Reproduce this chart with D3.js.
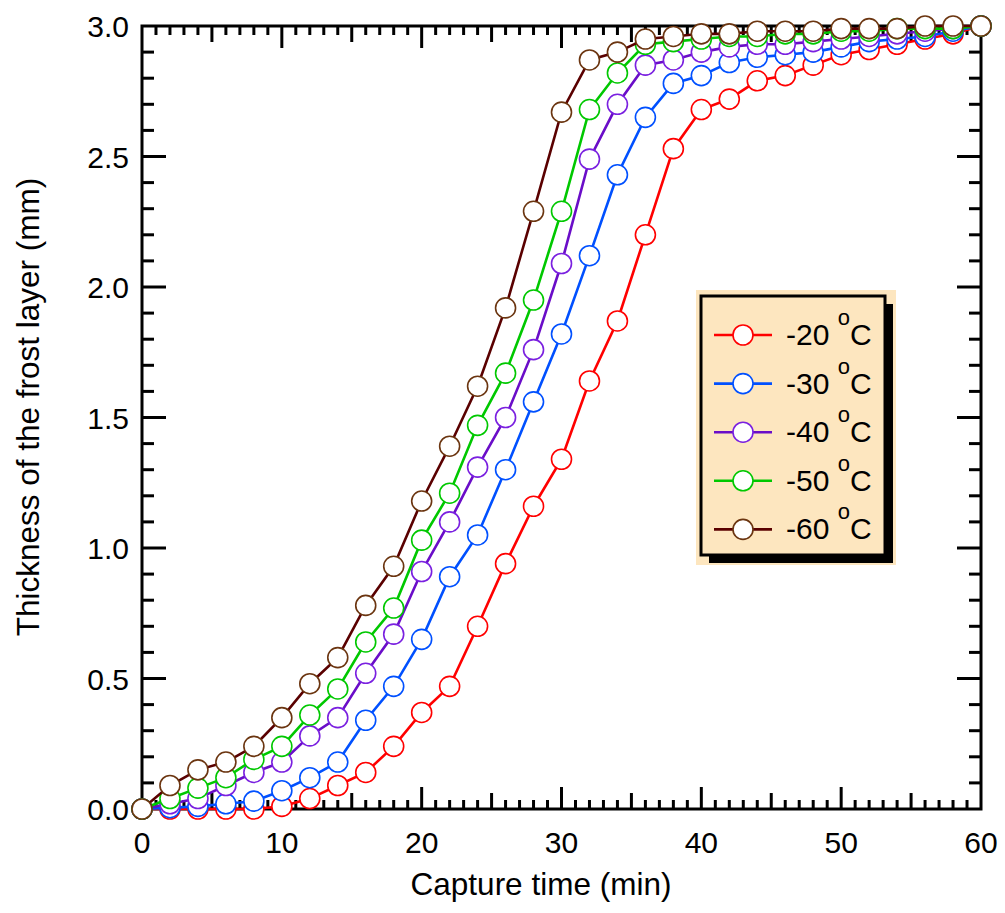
<!DOCTYPE html>
<html><head><meta charset="utf-8">
<script src="https://cdn.jsdelivr.net/npm/d3@7"></script>
<style>body{margin:0;background:#fff}svg{display:block;font-family:"Liberation Sans",Arial,sans-serif}</style>
</head><body><svg id="c" width="1005" height="913"></svg>
<script>
const times = [0,2,4,6,8,10,12,14,16,18,20,22,24,26,28,30,32,34,36,38,40,42,44,46,48,50,52,54,56,58,60];
const seriesNames = ["-20", "-30", "-40", "-50", "-60"];
const t20 = [0,0,0,0,0,0.01,0.04,0.09,0.14,0.24,0.37,0.47,0.70,0.94,1.16,1.34,1.64,1.87,2.20,2.53,2.68,2.72,2.79,2.81,2.85,2.89,2.91,2.93,2.95,2.97,3.0];
const t30 = [0,0.005,0.01,0.02,0.03,0.07,0.12,0.18,0.34,0.47,0.65,0.89,1.05,1.30,1.56,1.82,2.12,2.43,2.65,2.78,2.81,2.86,2.88,2.89,2.90,2.92,2.94,2.95,2.96,2.98,3.0];
const t40 = [0,0.02,0.04,0.09,0.14,0.18,0.28,0.35,0.52,0.67,0.91,1.10,1.31,1.50,1.76,2.09,2.49,2.70,2.85,2.87,2.90,2.92,2.93,2.93,2.94,2.95,2.96,2.97,2.98,2.99,3.0];
const t50 = [0,0.04,0.08,0.12,0.19,0.24,0.36,0.46,0.64,0.77,1.03,1.21,1.47,1.67,1.95,2.29,2.68,2.82,2.93,2.94,2.95,2.96,2.96,2.97,2.97,2.98,2.98,2.99,2.99,2.99,3.0];
const t60 = [0,0.09,0.15,0.18,0.24,0.35,0.48,0.58,0.78,0.93,1.18,1.39,1.62,1.92,2.29,2.67,2.87,2.90,2.95,2.96,2.97,2.97,2.98,2.98,2.98,2.99,2.99,2.99,3.0,3.0,3.0];
const seriesValues = [t20, t30, t40, t50, t60];
const xTicks = [0,10,20,30,40,50,60];
const yTicks = [0,0.5,1.0,1.5,2.0,2.5,3.0];
const lineColors = ["#ff0000","#0050ff","#6a0dc8","#00c800","#5a0000"];
const markerColors = ["#ff0000","#0050ff","#7a20e0","#00c800","#6b3510"];

const svg = d3.select("#c");
const L=142,R=981,T=26,B=809;
const x = d3.scaleLinear().domain([0,60]).range([L,R]);
const y = d3.scaleLinear().domain([0,3]).range([B,T]);

// ticks
const g = svg.append("g").attr("stroke","#000").attr("stroke-width",3);
d3.range(0,61,1).forEach(v=>{
  const len = v%10===0?22:(v%5===0?16:9);
  if(v===0||v===60) return;
  g.append("line").attr("x1",x(v)).attr("x2",x(v)).attr("y1",B).attr("y2",B-len);
  g.append("line").attr("x1",x(v)).attr("x2",x(v)).attr("y1",T).attr("y2",T+len);
});
d3.range(0,31,1).forEach(i=>{
  const v=i/10;
  const len = i%5===0?24:12;
  if(i===0||i===30) return;
  g.append("line").attr("x1",L).attr("x2",L+len).attr("y1",y(v)).attr("y2",y(v));
  g.append("line").attr("x1",R).attr("x2",R-len).attr("y1",y(v)).attr("y2",y(v));
});
svg.append("rect").attr("x",L).attr("y",T).attr("width",R-L).attr("height",B-T)
  .attr("fill","none").attr("stroke","#000").attr("stroke-width",3);

// labels
svg.append("g").selectAll("text").data(xTicks).join("text")
  .attr("x",d=>x(d)).attr("y",853).attr("text-anchor","middle")
  .attr("font-size",30).text(d=>d);
svg.append("g").selectAll("text").data(yTicks).join("text")
  .attr("x",129).attr("y",d=>y(d)+11).attr("text-anchor","end")
  .attr("font-size",30).text(d=>d.toFixed(1));
svg.append("text").attr("x",541).attr("y",895).attr("text-anchor","middle")
  .attr("font-size",31.5).text("Capture time (min)");
svg.append("text").attr("transform","translate(39,407) rotate(-90)").attr("text-anchor","middle")
  .attr("font-size",31.5).text("Thickness of the frost layer (mm)");

// series
const line = d3.line().x((d,i)=>x(times[i])).y(d=>y(d));
seriesValues.forEach((vals,k)=>{
  const sg = svg.append("g");
  sg.append("path").attr("d",line(vals)).attr("fill","none")
    .attr("stroke",lineColors[k]).attr("stroke-width",2.6);
  sg.selectAll("circle").data(vals).join("circle")
    .attr("cx",(d,i)=>x(times[i])).attr("cy",d=>y(d)).attr("r",10)
    .attr("fill","#fff").attr("stroke",markerColors[k]).attr("stroke-width",1.6);
});

// legend
const lg = svg.append("g");
lg.append("rect").attr("x",696).attr("y",290).attr("width",200).attr("height",275).attr("fill","#fde6bf");
lg.append("rect").attr("x",709).attr("y",304).attr("width",184).attr("height",259).attr("fill","#000");
lg.append("rect").attr("x",701).attr("y",296).attr("width",184).attr("height",259)
  .attr("fill","#fde6bf").attr("stroke","#000").attr("stroke-width",3);
seriesNames.forEach((n,k)=>{
  const cy = 335 + k*48.6;
  lg.append("line").attr("x1",714).attr("x2",772).attr("y1",cy).attr("y2",cy)
    .attr("stroke",lineColors[k]).attr("stroke-width",2.6);
  lg.append("circle").attr("cx",743).attr("cy",cy).attr("r",10)
    .attr("fill","#fff").attr("stroke",markerColors[k]).attr("stroke-width",1.6);
  const t = lg.append("text").attr("x",786).attr("y",cy+10).attr("font-size",30);
  t.append("tspan").text(n+" ");
  t.append("tspan").attr("dy",-20).attr("font-size",22).text("o");
  t.append("tspan").attr("dy",20).text("C");
});
</script></body></html>
